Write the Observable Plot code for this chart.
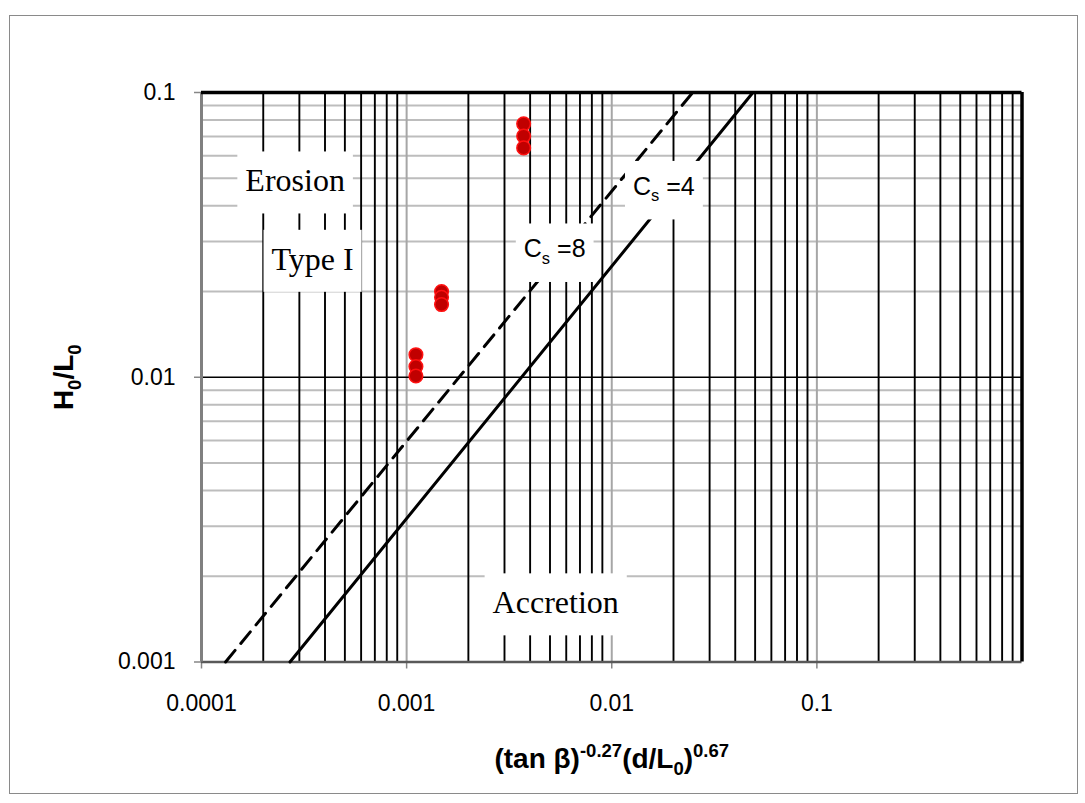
<!DOCTYPE html>
<html><head><meta charset="utf-8">
<script src="https://cdn.jsdelivr.net/npm/d3@7"></script>
<script src="https://cdn.jsdelivr.net/npm/@observablehq/plot@0.6"></script>
<style>
body{margin:0;background:#fff}
#wrap{position:relative;width:1085px;height:803px;overflow:hidden}
#border{position:absolute;left:9px;top:15px;width:1069px;height:779px;border:1px solid #8a8a8a;box-sizing:border-box;pointer-events:none}
[aria-label^="x-axis"] text,[aria-label^="y-axis"] text{font-family:'Liberation Sans',Arial,sans-serif;font-size:23px;fill:#000}
[aria-label^="x-axis"] line,[aria-label^="y-axis"] line,[aria-label="x-axis tick"] path,[aria-label="y-axis tick"] path{stroke:#868686;stroke-width:1.5}
</style>
</head><body><div id="wrap"><div id="chart"></div><div id="border"></div></div>
<script>
// ---- data ----
const xTickValues = [0.0001, 0.001, 0.01, 0.1];
const xTickLabels = ["0.0001", "0.001", "0.01", "0.1"];
const yTickValues = [0.001, 0.01, 0.1];
const yTickLabels = ["0.001", "0.01", "0.1"];

const pointX = [0.00111, 0.00111, 0.00111, 0.00148, 0.00148, 0.00148, 0.00372, 0.00372, 0.00372];
const pointY = [0.0120, 0.0109, 0.0101, 0.0200, 0.0191, 0.0180, 0.0776, 0.0703, 0.0639];

const cs4X = [0.00027, 0.0488];
const cs4Y = [0.001, 0.1];
const cs8X = [0.000131, 0.0248];
const cs8Y = [0.001, 0.1];

const zoneLabels = ["Erosion", "Type I", "Accretion"];
const zoneX = [0.000286, 0.000348, 0.00533];
const zoneY = [0.0488, 0.0259, 0.00161];

const csLabels = ["C_{s} =4", "C_{s} =8"];
const csX = [0.01795, 0.00527];
const csY = [0.0466, 0.0281];

const xTitle = "(tan β)^{-0.27}(d/L_{0})^{0.67}";
const yTitle = "H_{0}/L_{0}";

// ---- grid values (decade subdivisions) ----
const xDecades = [0.0001, 0.001, 0.01, 0.1];
const yDecades = [0.001, 0.01];
const xMinor = [], yMinor = [];
for (const d of xDecades) for (let k = 2; k <= 9; k++) xMinor.push(+(k * d).toPrecision(3));
for (const d of yDecades) for (let k = 2; k <= 9; k++) yMinor.push(+(k * d).toPrecision(3));

const points = pointX.map((x, i) => ({x, y: pointY[i]}));
const line4 = cs4X.map((x, i) => ({x, y: cs4Y[i]}));
const line8 = cs8X.map((x, i) => ({x, y: cs8Y[i]}));
const zones = zoneLabels.map((t, i) => ({t, x: zoneX[i], y: zoneY[i]}));
const css = csLabels.map((t, i) => ({t, x: csX[i], y: csY[i]}));

const sans = "'Liberation Sans', Arial, sans-serif";
const serif = "'Liberation Serif', 'Times New Roman', serif";

const chart = Plot.plot({
  width: 1085, height: 803,
  marginLeft: 201, marginRight: 63.5, marginTop: 92, marginBottom: 141.5,
  style: {fontFamily: sans, fontSize: "23px", color: "black", background: "white", overflow: "visible"},
  x: {type: "log", domain: [0.0001, 1], ticks: xTickValues, tickFormat: d => xTickLabels[xTickValues.indexOf(d)] ?? "", tickSize: 7, tickPadding: 26, label: null},
  y: {type: "log", domain: [0.001, 0.1], ticks: yTickValues, tickFormat: d => yTickLabels[yTickValues.indexOf(d)] ?? "", tickSize: 7, tickPadding: 19, label: null},
  marks: [
    Plot.ruleY(yMinor, {stroke: "#bdbdbd", strokeWidth: 2}),
    Plot.ruleX(xMinor, {stroke: "black", strokeWidth: 1.9}),
    Plot.ruleX([0.001, 0.01, 0.1], {stroke: "#a6a6a6", strokeWidth: 2}),
    Plot.ruleY([0.01], {stroke: "black", strokeWidth: 1.5}),
    Plot.ruleY([0.001], {stroke: "#595959", strokeWidth: 2.5}),
    Plot.ruleX([0.0001], {stroke: "#808080", strokeWidth: 3}),
    Plot.ruleY([0.1], {stroke: "black", strokeWidth: 3.5}),
    Plot.ruleX([1], {stroke: "black", strokeWidth: 3.5}),
    Plot.line(line8, {x: "x", y: "y", stroke: "black", strokeWidth: 3, strokeDasharray: "15,9"}),
    Plot.line(line4, {x: "x", y: "y", stroke: "black", strokeWidth: 3}),
    Plot.dot(points, {x: "x", y: "y", r: 6.8, fill: "#c00000", stroke: "#ff1010", strokeWidth: 1.5}),
    Plot.text(zones, {x: "x", y: "y", text: "t", fontFamily: serif, fontSize: 32, fill: "black"}),
    Plot.text(css, {x: "x", y: "y", text: "t", fontFamily: sans, fontSize: 25, fill: "black"}),
    Plot.text([xTitle], {text: d => d, frameAnchor: "bottom", textAnchor: "middle", lineAnchor: "middle", dy: 97, fontFamily: sans, fontSize: 28, fontWeight: "bold", fill: "black"}),
    Plot.text([yTitle], {text: d => d, frameAnchor: "left", textAnchor: "middle", lineAnchor: "middle", dx: -137, rotate: -90, fontFamily: sans, fontSize: 28, fontWeight: "bold", fill: "black"})
  ]
});

document.getElementById("chart").appendChild(chart);

const boxSet = new Set([...zoneLabels, ...csLabels]);
const NS = "http://www.w3.org/2000/svg";

function richText(el, str, fs) {
  el.textContent = "";
  const re = /([_^])\{([^}]*)\}/g;
  const segs = [];
  let last = 0, m;
  while ((m = re.exec(str))) {
    if (m.index > last) segs.push({t: str.slice(last, m.index), k: ""});
    segs.push({t: m[2], k: m[1]});
    last = re.lastIndex;
  }
  if (last < str.length) segs.push({t: str.slice(last), k: ""});
  let shift = 0;
  for (const s of segs) {
    const ts = document.createElementNS(NS, "tspan");
    const target = s.k === "_" ? 0.26 * fs : s.k === "^" ? -0.4 * fs : 0;
    if (target - shift !== 0) ts.setAttribute("dy", (target - shift).toFixed(2));
    shift = target;
    if (s.k) ts.setAttribute("font-size", (0.66 * fs).toFixed(1));
    ts.textContent = s.t;
    el.appendChild(ts);
  }
}

const svg = d3.select(chart.tagName.toLowerCase() === "svg" ? chart : chart.querySelector("svg"));
const boxed = [];
svg.selectAll("text").each(function () {
  const s = this.textContent;
  const isBox = boxSet.has(s);
  if (s.includes("_{") || s.includes("^{")) {
    const fs = parseFloat(getComputedStyle(this).fontSize) || 24;
    richText(this, s, fs);
  }
  if (isBox) boxed.push(this);
});
for (const t of boxed) {
  const b = t.getBBox();
  const padX = 8, padTop = 11, padBottom = 15;
  const r = document.createElementNS(NS, "rect");
  r.setAttribute("x", b.x - padX);
  r.setAttribute("y", b.y - padTop);
  r.setAttribute("width", b.width + 2 * padX);
  r.setAttribute("height", b.height + padTop + padBottom);
  r.setAttribute("fill", "white");
  r.setAttribute("stroke", "none");
  if (t.getAttribute("transform")) r.setAttribute("transform", t.getAttribute("transform"));
  t.parentNode.insertBefore(r, t);
}
</script>
</body></html>
